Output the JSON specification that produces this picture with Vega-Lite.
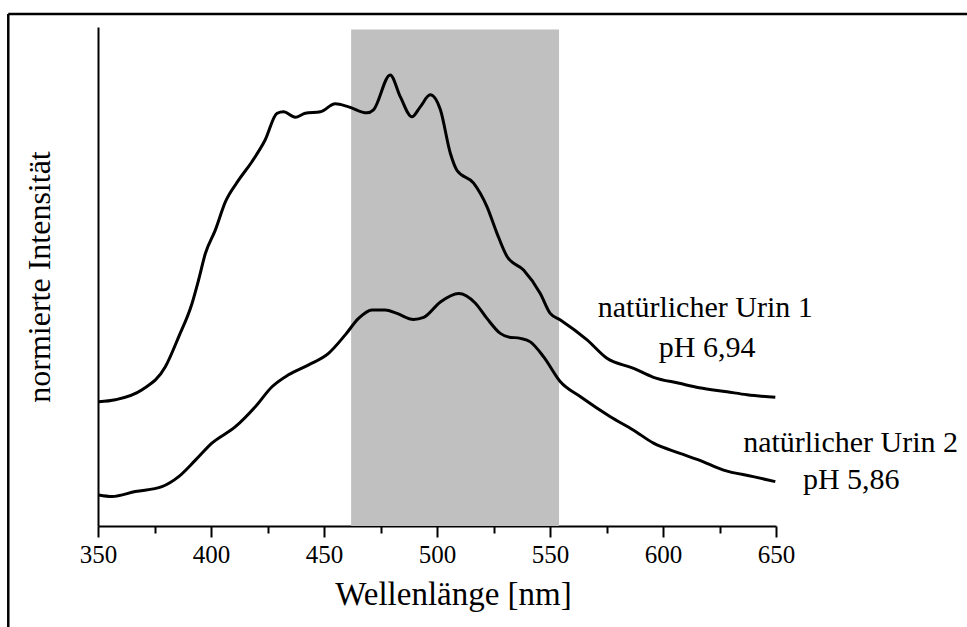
{
  "$schema": "https://vega.github.io/schema/vega-lite/v6.json",
  "autosize": "none",
  "width": 678,
  "height": 499,
  "padding": {"left": 98, "top": 27, "right": 191, "bottom": 101},
  "background": "white",
  "config": {"view": {"stroke": null}, "font": "Liberation Serif"},
  "datasets": {
    "spectra": [
      {"nm": 350.3, "v": 24.9, "s": "Urin 1"}, {"nm": 357.7, "v": 25.3, "s": "Urin 1"}, {"nm": 369.5, "v": 27.3, "s": "Urin 1"},
      {"nm": 379.8, "v": 31.9, "s": "Urin 1"}, {"nm": 385.7, "v": 37.9, "s": "Urin 1"}, {"nm": 391.6, "v": 44.6, "s": "Urin 1"},
      {"nm": 394.5, "v": 49.3, "s": "Urin 1"}, {"nm": 397.5, "v": 54.6, "s": "Urin 1"}, {"nm": 401.9, "v": 59.3, "s": "Urin 1"},
      {"nm": 406.4, "v": 65.0, "s": "Urin 1"}, {"nm": 412.2, "v": 69.3, "s": "Urin 1"}, {"nm": 418.1, "v": 73.0, "s": "Urin 1"},
      {"nm": 424.0, "v": 77.4, "s": "Urin 1"}, {"nm": 429.2, "v": 82.7, "s": "Urin 1"}, {"nm": 432.1, "v": 83.0, "s": "Urin 1"},
      {"nm": 437.3, "v": 81.9, "s": "Urin 1"}, {"nm": 441.7, "v": 82.7, "s": "Urin 1"}, {"nm": 448.4, "v": 83.0, "s": "Urin 1"},
      {"nm": 455.0, "v": 84.6, "s": "Urin 1"}, {"nm": 460.9, "v": 84.0, "s": "Urin 1"}, {"nm": 469.0, "v": 82.8, "s": "Urin 1"},
      {"nm": 471.9, "v": 83.4, "s": "Urin 1"}, {"nm": 479.3, "v": 90.4, "s": "Urin 1"}, {"nm": 483.8, "v": 86.0, "s": "Urin 1"},
      {"nm": 488.9, "v": 82.0, "s": "Urin 1"}, {"nm": 492.6, "v": 84.0, "s": "Urin 1"}, {"nm": 497.0, "v": 86.4, "s": "Urin 1"},
      {"nm": 501.5, "v": 83.4, "s": "Urin 1"}, {"nm": 505.9, "v": 74.7, "s": "Urin 1"}, {"nm": 508.8, "v": 71.3, "s": "Urin 1"},
      {"nm": 516.2, "v": 68.7, "s": "Urin 1"}, {"nm": 522.1, "v": 64.0, "s": "Urin 1"}, {"nm": 526.5, "v": 58.7, "s": "Urin 1"},
      {"nm": 531.0, "v": 54.0, "s": "Urin 1"}, {"nm": 538.3, "v": 51.3, "s": "Urin 1"}, {"nm": 545.7, "v": 46.6, "s": "Urin 1"},
      {"nm": 550.1, "v": 42.6, "s": "Urin 1"}, {"nm": 554.6, "v": 41.3, "s": "Urin 1"}, {"nm": 566.4, "v": 37.3, "s": "Urin 1"},
      {"nm": 575.2, "v": 33.6, "s": "Urin 1"}, {"nm": 587.0, "v": 31.6, "s": "Urin 1"}, {"nm": 595.8, "v": 29.8, "s": "Urin 1"},
      {"nm": 607.2, "v": 28.6, "s": "Urin 1"}, {"nm": 616.0, "v": 27.7, "s": "Urin 1"}, {"nm": 628.3, "v": 26.9, "s": "Urin 1"},
      {"nm": 637.2, "v": 26.3, "s": "Urin 1"}, {"nm": 649.7, "v": 25.8, "s": "Urin 1"},
      {"nm": 350.3, "v": 6.2, "s": "Urin 2"}, {"nm": 356.2, "v": 5.9, "s": "Urin 2"}, {"nm": 366.5, "v": 6.9, "s": "Urin 2"},
      {"nm": 378.3, "v": 7.9, "s": "Urin 2"}, {"nm": 385.7, "v": 9.9, "s": "Urin 2"}, {"nm": 393.1, "v": 13.2, "s": "Urin 2"},
      {"nm": 400.4, "v": 16.6, "s": "Urin 2"}, {"nm": 410.8, "v": 19.9, "s": "Urin 2"}, {"nm": 419.6, "v": 23.9, "s": "Urin 2"},
      {"nm": 427.0, "v": 27.9, "s": "Urin 2"}, {"nm": 434.3, "v": 30.3, "s": "Urin 2"}, {"nm": 443.2, "v": 32.3, "s": "Urin 2"},
      {"nm": 452.0, "v": 34.6, "s": "Urin 2"}, {"nm": 459.4, "v": 38.3, "s": "Urin 2"}, {"nm": 465.3, "v": 41.6, "s": "Urin 2"},
      {"nm": 471.2, "v": 43.3, "s": "Urin 2"}, {"nm": 477.1, "v": 43.3, "s": "Urin 2"}, {"nm": 482.3, "v": 42.6, "s": "Urin 2"},
      {"nm": 489.6, "v": 41.4, "s": "Urin 2"}, {"nm": 494.1, "v": 41.8, "s": "Urin 2"}, {"nm": 501.5, "v": 44.9, "s": "Urin 2"},
      {"nm": 509.6, "v": 46.6, "s": "Urin 2"}, {"nm": 516.9, "v": 44.7, "s": "Urin 2"}, {"nm": 522.1, "v": 41.6, "s": "Urin 2"},
      {"nm": 528.0, "v": 38.6, "s": "Urin 2"}, {"nm": 531.5, "v": 37.9, "s": "Urin 2"}, {"nm": 536.9, "v": 37.6, "s": "Urin 2"},
      {"nm": 541.3, "v": 36.9, "s": "Urin 2"}, {"nm": 547.2, "v": 33.9, "s": "Urin 2"}, {"nm": 554.6, "v": 28.9, "s": "Urin 2"},
      {"nm": 563.5, "v": 25.9, "s": "Urin 2"}, {"nm": 576.7, "v": 21.9, "s": "Urin 2"}, {"nm": 587.0, "v": 19.2, "s": "Urin 2"},
      {"nm": 595.8, "v": 16.6, "s": "Urin 2"}, {"nm": 607.2, "v": 14.6, "s": "Urin 2"}, {"nm": 616.0, "v": 13.2, "s": "Urin 2"},
      {"nm": 626.8, "v": 11.2, "s": "Urin 2"}, {"nm": 639.9, "v": 9.9, "s": "Urin 2"}, {"nm": 649.7, "v": 8.9, "s": "Urin 2"}
    ],
    "labels": [
      {"nm": 618.7, "v": 43.7, "t": "natürlicher Urin 1"},
      {"nm": 619.5, "v": 35.7, "t": "pH 6,94"},
      {"nm": 683.0, "v": 16.6, "t": "natürlicher Urin 2"},
      {"nm": 683.3, "v": 9.2, "t": "pH 5,86"}
    ],
    "band": [{"start": 462, "end": 554, "lo": 0, "hi": 99.5}]
  },
  "layer": [
    {
      "data": {"name": "band"},
      "mark": {"type": "rect", "color": "#c0c0c0"},
      "encoding": {
        "x": {"field": "start", "type": "quantitative",
          "scale": {"domain": [350, 650], "nice": false, "zero": false},
          "axis": {
            "values": [350, 375, 400, 425, 450, 475, 500, 525, 550, 575, 600, 625, 650],
            "labelExpr": "datum.value % 50 === 0 ? datum.label : ''",
            "labelFlush": false,
            "grid": false,
            "domainColor": "black", "domainWidth": 2,
            "tickColor": "black", "tickWidth": 2,
            "tickSize": {"condition": {"test": "datum.value % 50 === 0", "value": 11}, "value": 7},
            "labelPadding": 5,
            "labelFont": "Liberation Serif", "labelFontSize": 25, "labelColor": "black",
            "title": "Wellenlänge [nm]",
            "titleFont": "Liberation Serif", "titleFontSize": 33, "titleFontWeight": "normal", "titleColor": "black",
            "titlePadding": 11, "titleX": 355
          }},
        "x2": {"field": "end"},
        "y": {"field": "lo", "type": "quantitative",
          "scale": {"domain": [0, 100], "nice": false},
          "axis": {
            "ticks": false, "labels": false, "grid": false,
            "domainColor": "black", "domainWidth": 2,
            "title": "normierte Intensität",
            "titleFont": "Liberation Serif", "titleFontSize": 32, "titleFontWeight": "normal", "titleColor": "black",
            "titlePadding": 42
          }},
        "y2": {"field": "hi"}
      }
    },
    {
      "data": {"name": "spectra"},
      "mark": {"type": "line", "color": "black", "strokeWidth": 3, "interpolate": "monotone"},
      "encoding": {
        "x": {"field": "nm", "type": "quantitative"},
        "y": {"field": "v", "type": "quantitative"},
        "detail": {"field": "s"}
      }
    },
    {
      "data": {"name": "labels"},
      "mark": {"type": "text", "font": "Liberation Serif", "fontSize": 30, "color": "black", "align": "center", "baseline": "middle"},
      "encoding": {
        "x": {"field": "nm", "type": "quantitative"},
        "y": {"field": "v", "type": "quantitative"},
        "text": {"field": "t"}
      }
    },
    {
      "data": {"values": [{"x": 310.3, "y": 102.6, "y2": -22}]},
      "mark": {"type": "rule", "color": "black", "strokeWidth": 2.5},
      "encoding": {
        "x": {"field": "x", "type": "quantitative"},
        "y": {"field": "y", "type": "quantitative"},
        "y2": {"field": "y2"}
      }
    },
    {
      "data": {"values": [{"x": 310.3, "x2": 740, "y": 102.6}]},
      "mark": {"type": "rule", "color": "black", "strokeWidth": 2.5},
      "encoding": {
        "x": {"field": "x", "type": "quantitative"},
        "x2": {"field": "x2"},
        "y": {"field": "y", "type": "quantitative"}
      }
    }
  ]
}
